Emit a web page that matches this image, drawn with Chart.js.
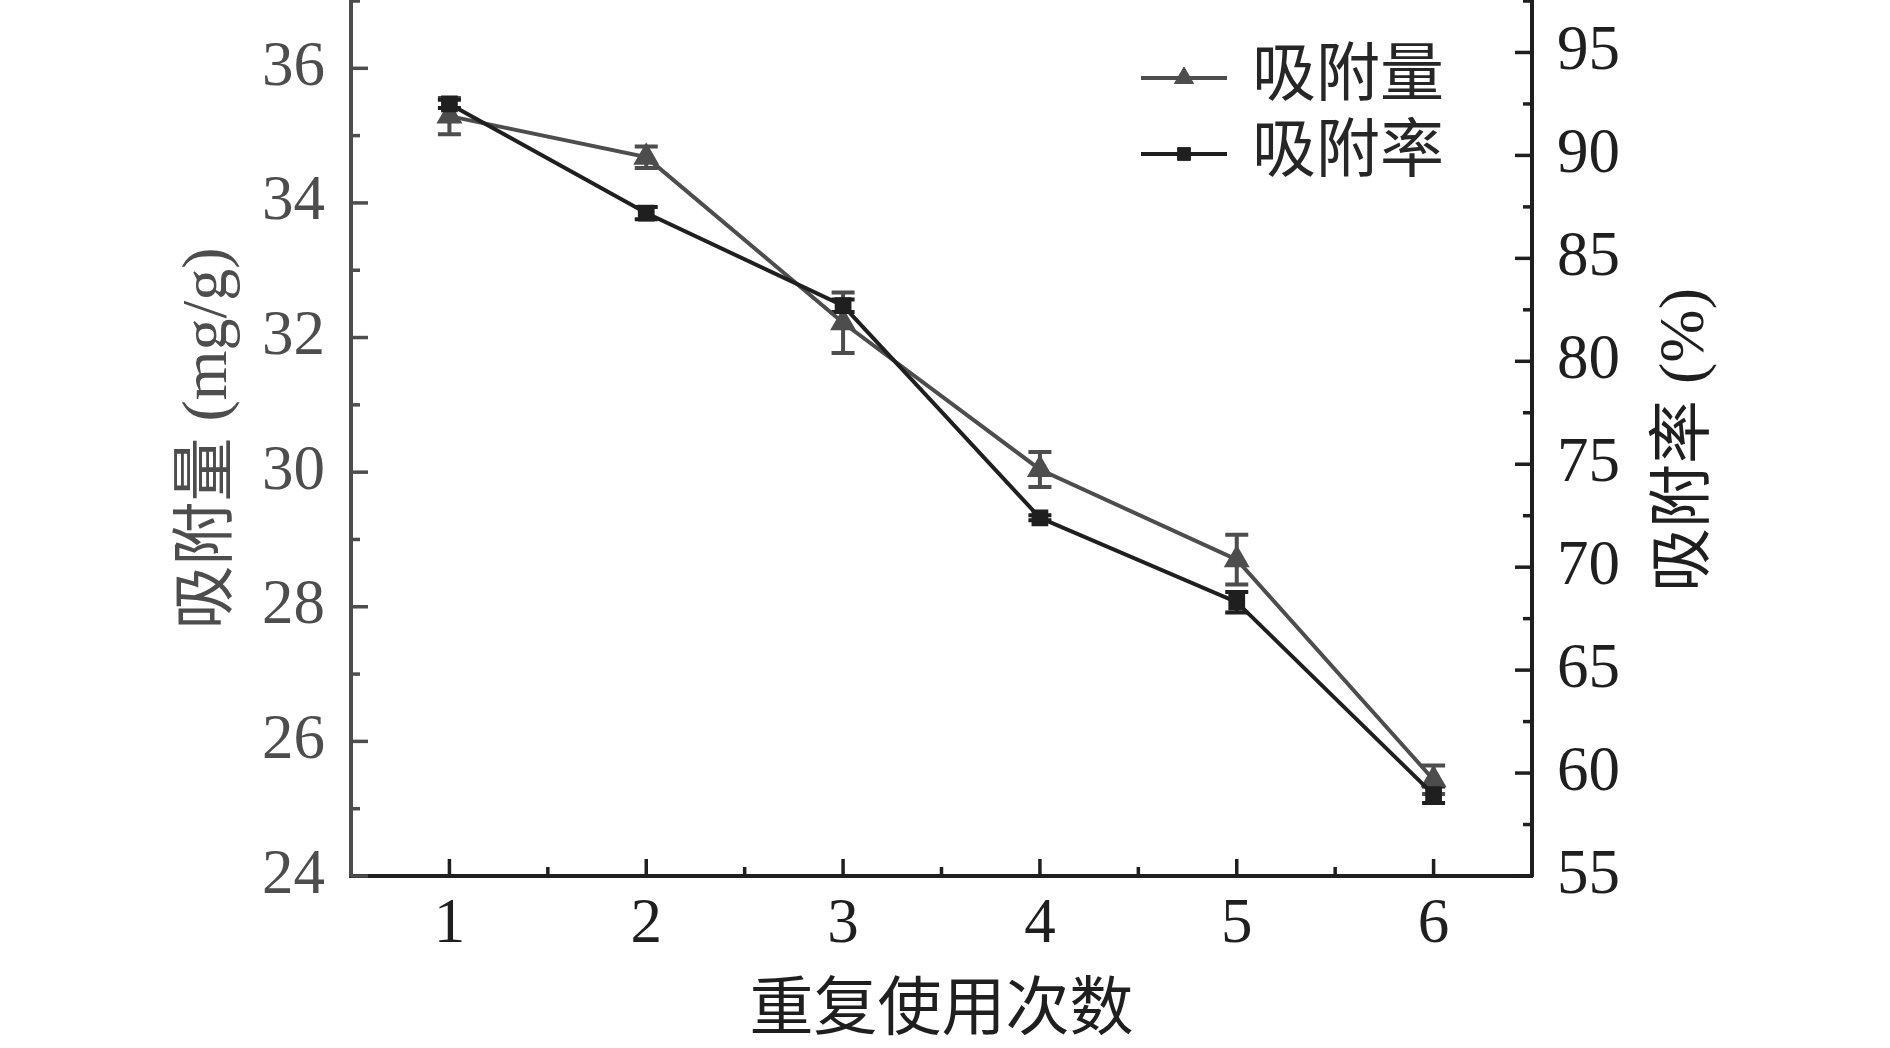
<!DOCTYPE html>
<html>
<head>
<meta charset="utf-8">
<script src="https://cdn.jsdelivr.net/npm/chart.js@4.4.0/dist/chart.umd.min.js"></script>
<style>
html, body { margin: 0; padding: 0; background: #fff; }
#wrap { width: 1890px; height: 1048px; }
</style>
</head>
<body>
<div id="wrap"><canvas id="myChart" width="1890" height="1048"></canvas></div>
<script>
// data
let cycles = ['1', '2', '3', '4', '5', '6'];
let capacity = [35.29, 34.68, 32.22, 30.04, 28.70, 25.43];      // 吸附量 (mg/g)
let capacityErr = [0.27, 0.16, 0.45, 0.26, 0.37, 0.21];
let removal = [92.5, 87.2, 82.7, 72.4, 68.3, 58.95];            // 吸附率 (%)
let removalErr = [0.2, 0.3, 0.3, 0.12, 0.5, 0.4];

let leftTicks = [24, 26, 28, 30, 32, 34, 36];
let leftMinor = [25, 27, 29, 31, 33, 35, 37];
let rightTicks = [55, 60, 65, 70, 75, 80, 85, 90, 95];
let rightMinor = [57.5, 62.5, 67.5, 72.5, 77.5, 82.5, 87.5, 92.5, 97.5];

let gray = '#4d4d4d';
let dark = '#1f1f1f';
let serif = "'Liberation Serif', 'Noto Sans CJK SC', serif";

// fixed box sizes, no extra label padding
function fixBox(w, h) {
  return s => {
    if (w !== null) s.width = w;
    if (h !== null) s.height = h;
    s.paddingTop = 0; s.paddingBottom = 0; s.paddingLeft = 0; s.paddingRight = 0;
  };
}

const decor = {
  id: 'decor',
  beforeDatasetsDraw(chart) {
    const {ctx, scales} = chart;
    ctx.save();
    ctx.lineWidth = 4;
    chart.data.datasets.forEach((ds) => {
      const ys = scales[ds.yAxisID];
      ctx.strokeStyle = ds.borderColor;
      ds.data.forEach((v, i) => {
        const px = scales.x.getPixelForValue(i);
        const top = ys.getPixelForValue(v + ds.err[i]);
        const bot = ys.getPixelForValue(v - ds.err[i]);
        const w = ds.capWidth / 2;
        ctx.beginPath();
        ctx.moveTo(px, top); ctx.lineTo(px, bot);
        ctx.moveTo(px - w, top); ctx.lineTo(px + w, top);
        ctx.moveTo(px - w, bot); ctx.lineTo(px + w, bot);
        ctx.stroke();
      });
    });
    ctx.restore();
  },
  afterDraw(chart) {
    const {ctx, chartArea: a, scales: {x, y, y1}} = chart;
    ctx.save();
    ctx.lineWidth = 3.5;
    const seg = (c, x0, y0, x1, y1_) => {
      ctx.strokeStyle = c;
      ctx.beginPath(); ctx.moveTo(x0, y0); ctx.lineTo(x1, y1_); ctx.stroke();
    };
    // inward ticks
    leftTicks.forEach(v => { const p = y.getPixelForValue(v); seg(gray, a.left, p, a.left + 17, p); });
    leftMinor.forEach(v => { const p = y.getPixelForValue(v); seg(gray, a.left, p, a.left + 9, p); });
    rightTicks.forEach(v => { const p = y1.getPixelForValue(v); seg(dark, a.right, p, a.right - 17, p); });
    rightMinor.forEach(v => { const p = y1.getPixelForValue(v); seg(dark, a.right, p, a.right - 9, p); });
    cycles.forEach((c, i) => {
      const p = x.getPixelForValue(i);
      seg(dark, p, a.bottom, p, a.bottom - 17);
      if (i < cycles.length - 1) {
        const m = (p + x.getPixelForValue(i + 1)) / 2;
        seg(dark, m, a.bottom, m, a.bottom - 9);
      }
    });

    // right axis title, reading bottom to top
    ctx.fillStyle = dark;
    ctx.font = '64px ' + serif;
    ctx.textAlign = 'center';
    ctx.textBaseline = 'middle';
    ctx.save();
    ctx.translate(1686, 440);
    ctx.rotate(-Math.PI / 2);
    ctx.fillText('吸附率 (%)', 0, 0);
    ctx.restore();

    // legend: line with marker
    const rows = [78, 154];
    chart.data.datasets.forEach((ds, i) => {
      const ly = rows[i];
      ctx.lineWidth = 4;
      seg(ds.borderColor, 1141, ly, 1227, ly);
      ctx.fillStyle = ds.backgroundColor;
      ctx.strokeStyle = ds.borderColor;
      ctx.lineWidth = 1;
      Chart.helpers.drawPoint(ctx, {pointStyle: ds.pointStyle, radius: ds.pointRadius, rotation: 0, borderWidth: 1}, 1184, ly);
      ctx.fillStyle = '#262626';
      ctx.textAlign = 'left';
      ctx.fillText(ds.label, 1252, ly);
    });
    ctx.restore();
  }
};

let myChart = document.getElementById('myChart').getContext('2d');

let chart = new Chart(myChart, {
  type: 'line',
  data: {
    labels: cycles,
    datasets: [{
      label: '吸附量',
      data: capacity,
      err: capacityErr,
      capWidth: 23,
      yAxisID: 'y',
      borderColor: gray,
      backgroundColor: gray,
      borderWidth: 4,
      pointStyle: 'triangle',
      pointRadius: 11,
      order: 1
    }, {
      label: '吸附率',
      data: removal,
      err: removalErr,
      capWidth: 23,
      yAxisID: 'y1',
      borderColor: dark,
      backgroundColor: dark,
      borderWidth: 4,
      pointStyle: 'rect',
      pointRadius: 9,
      order: 0
    }]
  },
  options: {
    responsive: false,
    animation: false,
    devicePixelRatio: 1,
    layout: { autoPadding: false, padding: { top: 1, left: 0, right: 0, bottom: 0 } },
    elements: { line: { tension: 0 } },
    plugins: {
      legend: { display: false },
      tooltip: { enabled: false }
    },
    scales: {
      x: {
        type: 'category',
        offset: true,
        grid: { display: false, drawTicks: false },
        border: { display: true, color: dark, width: 4 },
        ticks: { color: dark, padding: 12, font: { family: serif, size: 63 } },
        title: {
          display: true, text: '重复使用次数', color: dark,
          font: { family: serif, size: 64 }, padding: { top: 0, bottom: -3 }
        },
        afterFit: fixBox(null, 172)
      },
      y: {
        position: 'left',
        min: 24, max: 37,
        grid: { display: false, drawTicks: false },
        border: { display: true, color: gray, width: 4 },
        ticks: { color: gray, padding: 26, font: { family: serif, size: 63 } },
        afterBuildTicks: s => { s.ticks = leftTicks.map(v => ({ value: v })); },
        title: {
          display: true, text: '吸附量 (mg/g)', color: gray,
          font: { family: serif, size: 64 }, padding: { top: 171, bottom: 0 }
        },
        afterFit: fixBox(351, null)
      },
      y1: {
        position: 'right',
        min: 55, max: 97.5,
        grid: { display: false, drawTicks: false },
        border: { display: true, color: dark, width: 4 },
        ticks: { color: dark, padding: 25, font: { family: serif, size: 63 } },
        afterBuildTicks: s => { s.ticks = rightTicks.map(v => ({ value: v })); },
        afterFit: fixBox(358, null)
      }
    }
  },
  plugins: [decor]
});
</script>
</body>
</html>
